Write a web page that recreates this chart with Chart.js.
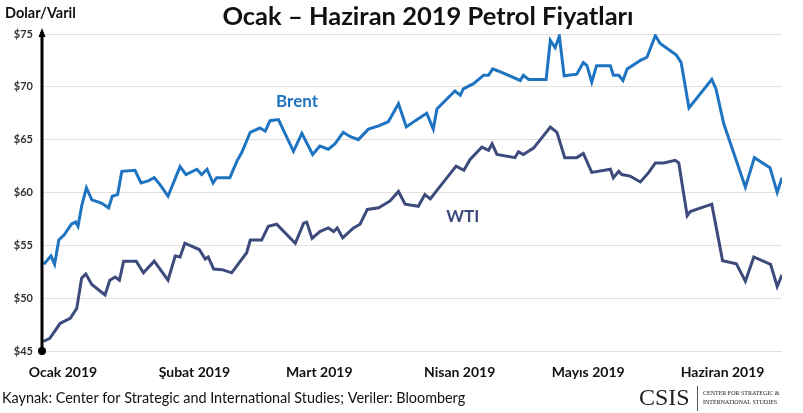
<!DOCTYPE html>
<html>
<head>
<meta charset="utf-8">
<script src="https://cdn.jsdelivr.net/npm/chart.js@4.4.1/dist/chart.umd.min.js"></script>
<style>
  html, body { margin: 0; padding: 0; background: #fff; }
  #wrap { position: relative; width: 803px; height: 413px; }
</style>
</head>
<body>
<div id="wrap"><canvas id="oil" width="803" height="413"></canvas></div>
<script>
// x = trading day since 2 Jan 2019, y = dollars per barrel
var brentDay = [0.3, 1.5, 2.1, 2.8, 3.7, 4.9, 5.6, 6.0, 6.6, 7.4, 8.3, 9.9, 11.1, 11.7, 12.6, 13.3, 15.5, 16.5, 17.7, 18.7,
  19.6, 21.0, 23.0, 24.0, 25.8, 26.6, 27.5, 28.5, 29.1, 31.3, 32.5, 33.3, 34.7, 36.3, 37.2, 38.0, 39.4, 41.9, 43.3, 45.1,
  46.3, 47.7, 48.8, 50.2, 51.3, 52.7, 54.4, 56.1, 57.7, 59.4, 60.7, 62.2, 64.1, 65.2, 65.8, 68.8, 69.7, 70.2, 71.9, 73.6,
  74.4, 75.1, 76.0, 79.7, 80.2, 81.1, 84.0, 84.7, 85.5, 86.2, 87.0, 89.1, 90.2, 90.8, 91.6, 92.4, 94.7, 95.2, 96.1, 96.8,
  97.5, 99.7, 100.8, 102.2, 103.0, 105.7, 106.5, 107.8, 111.6, 112.3, 113.6, 117.2, 118.7, 121.3, 122.5, 123.3];
var brentPrice = [53.2, 54.0, 53.2, 55.5, 56.0, 57.0, 57.2, 56.8, 58.7, 60.45, 59.3, 59.0, 58.55, 59.65, 59.8, 62.0, 62.1, 60.9, 61.1, 61.4,
  60.8, 59.65, 62.45, 61.7, 62.2, 61.7, 62.2, 60.9, 61.4, 61.4, 63.0, 63.8, 65.7, 66.1, 65.8, 66.8, 66.9, 63.9, 65.6, 63.6,
  64.4, 64.1, 64.6, 65.7, 65.3, 65.0, 66.0, 66.3, 66.7, 68.4, 66.2, 66.8, 67.5, 66.0, 67.9, 69.6, 69.2, 69.8, 70.3, 71.1,
  71.1, 71.7, 71.5, 70.6, 71.1, 70.7, 70.7, 74.4, 73.7, 74.8, 71.05, 71.2, 72.3, 72.0, 70.45, 72.0, 72.0, 71.1, 71.1, 70.6,
  71.7, 72.5, 72.8, 74.85, 74.1, 73.0, 72.3, 68.0, 70.7, 69.8, 66.5, 60.5, 63.3, 62.35, 60.0, 61.4];

var wtiDay = [0.2, 1.3, 3.0, 4.7, 5.8, 6.6, 7.3, 8.3, 10.5, 11.3, 12.2, 12.9, 13.6, 15.7, 16.9, 18.7, 21.0, 22.2, 23.0, 23.8,
  26.2, 27.2, 27.7, 28.6, 30.0, 31.6, 34.1, 34.7, 36.6, 37.7, 39.1, 42.2, 43.6, 44.1, 45.0, 46.3, 47.7, 48.6, 49.2, 50.1,
  51.9, 53.0, 54.2, 56.1, 58.0, 59.4, 60.5, 62.7, 63.8, 64.7, 65.8, 69.0, 70.3, 71.3, 73.3, 74.4, 75.0, 75.8, 78.8, 79.4,
  80.2, 81.9, 84.7, 85.8, 87.1, 89.1, 90.2, 91.6, 94.7, 95.2, 96.1, 96.6, 98.0, 99.7, 101.1, 102.2, 103.6, 105.5, 106.1, 107.5,
  108.0, 111.6, 113.4, 115.7, 117.2, 118.6, 121.4, 122.5, 123.3];
var wtiPrice = [45.9, 46.2, 47.6, 48.1, 49.05, 51.9, 52.3, 51.3, 50.3, 51.7, 52.0, 51.7, 53.5, 53.5, 52.4, 53.5, 51.7, 54.0, 53.9, 55.2,
  54.6, 53.7, 53.9, 52.75, 52.7, 52.4, 54.3, 55.5, 55.5, 56.8, 57.0, 55.2, 57.1, 57.2, 55.65, 56.3, 56.65, 56.3, 56.65, 55.7,
  56.65, 57.0, 58.4, 58.55, 59.2, 60.1, 58.9, 58.7, 59.8, 59.4, 60.2, 62.5, 62.1, 63.1, 64.3, 64.0, 64.6, 63.6, 63.3, 63.85,
  63.6, 64.2, 66.2, 65.7, 63.3, 63.3, 63.7, 61.9, 62.2, 61.4, 62.0, 61.7, 61.55, 61.0, 61.9, 62.8, 62.8, 63.05, 62.8, 57.8,
  58.2, 58.9, 53.55, 53.25, 51.6, 53.9, 53.2, 51.1, 52.2];

var monthDay = [3.5, 25.4, 46.2, 69.6, 91.0, 113.4];
var monthLabels = ['Ocak 2019', 'Şubat 2019', 'Mart 2019', 'Nisan 2019', 'Mayıs 2019', 'Haziran 2019'];
var priceTicks = [45, 50, 55, 60, 65, 70, 75];

var brentColor = '#1f74c2';
var wtiColor = '#3d4b7c';

var extras = {
  id: 'extras',
  afterDraw: function(chart) {
    var ctx = chart.ctx;
    var x = chart.scales.x, y = chart.scales.y;
    var ax = chart.chartArea.left, top = chart.chartArea.top, bottom = chart.chartArea.bottom;
    ctx.save();

    // title and unit
    ctx.fillStyle = '#111';
    ctx.textBaseline = 'middle';
    ctx.textAlign = 'center';
    ctx.font = 'bold 25.5px Lato';
    ctx.fillText('Ocak – Haziran 2019 Petrol Fiyatları', 428, 17);
    ctx.textAlign = 'left';
    ctx.font = 'bold 14.5px Lato';
    ctx.fillText('Dolar/Varil', 5, 13);

    // y axis with arrow and origin dot
    ctx.strokeStyle = '#000';
    ctx.fillStyle = '#000';
    ctx.lineWidth = 3;
    ctx.beginPath();
    ctx.moveTo(ax, bottom);
    ctx.lineTo(ax, top - 2);
    ctx.stroke();
    ctx.beginPath();
    ctx.moveTo(ax, top - 6);
    ctx.lineTo(ax - 3.5, top + 3);
    ctx.lineTo(ax + 3.5, top + 3);
    ctx.closePath();
    ctx.fill();
    ctx.beginPath();
    ctx.arc(ax, bottom, 4, 0, Math.PI * 2);
    ctx.fill();

    // series labels
    ctx.textAlign = 'center';
    ctx.font = 'bold 17px Lato';
    ctx.fillStyle = brentColor;
    ctx.fillText('Brent', x.getPixelForValue(42.5), y.getPixelForValue(68.6));
    ctx.fillStyle = wtiColor;
    ctx.fillText('WTI', x.getPixelForValue(70.1), y.getPixelForValue(57.7));

    // source line
    ctx.textAlign = 'left';
    ctx.fillStyle = '#111';
    ctx.font = '14.4px Lato';
    ctx.fillText('Kaynak: Center for Strategic and International Studies; Veriler: Bloomberg', 2, 398);

    // CSIS logo
    ctx.fillStyle = '#222';
    ctx.font = '24px "Liberation Serif"';
    ctx.fillText('CSIS', 639, 399);
    ctx.strokeStyle = '#555';
    ctx.lineWidth = 1;
    ctx.beginPath();
    ctx.moveTo(697.5, 386);
    ctx.lineTo(697.5, 411);
    ctx.stroke();
    ctx.font = '6px "Liberation Serif"';
    ctx.fillText('CENTER FOR STRATEGIC &', 703, 393);
    ctx.fillText('INTERNATIONAL STUDIES', 703, 402);
    ctx.restore();
  }
};

new Chart(document.getElementById('oil'), {
  type: 'line',
  data: {
    datasets: [
      {
        label: 'Brent',
        data: brentDay.map(function(d, i) { return { x: d, y: brentPrice[i] }; }),
        borderColor: brentColor,
        borderWidth: 3,
        pointRadius: 0,
        tension: 0,
        fill: false
      },
      {
        label: 'WTI',
        data: wtiDay.map(function(d, i) { return { x: d, y: wtiPrice[i] }; }),
        borderColor: wtiColor,
        borderWidth: 3,
        pointRadius: 0,
        tension: 0,
        fill: false
      }
    ]
  },
  options: {
    responsive: false,
    animation: false,
    layout: { padding: { top: 34, right: 21, left: 0, bottom: 0 } },
    plugins: { legend: { display: false }, tooltip: { enabled: false } },
    scales: {
      x: {
        type: 'linear',
        min: 0,
        max: 123.3,
        afterBuildTicks: function(scale) {
          scale.ticks = monthDay.map(function(v) { return { value: v }; });
        },
        afterFit: function(scale) { scale.height = 62; },
        ticks: {
          autoSkip: false,
          maxRotation: 0,
          padding: 13,
          color: '#111',
          font: { family: 'Lato', size: 14, weight: 'bold' },
          callback: function(v, i) { return monthLabels[i]; }
        },
        grid: { display: false, drawTicks: false },
        border: { display: false }
      },
      y: {
        min: 45,
        max: 75,
        afterBuildTicks: function(scale) {
          scale.ticks = priceTicks.map(function(v) { return { value: v }; });
        },
        afterFit: function(scale) { scale.width = 42; },
        ticks: {
          padding: 9,
          color: '#333',
          font: { family: 'Lato', size: 11, weight: 'bold' },
          callback: function(v) { return '$' + v; }
        },
        grid: { color: '#e4dfd8', lineWidth: 1, drawTicks: false },
        border: { display: false }
      }
    }
  },
  plugins: [extras]
});
</script>
</body>
</html>
